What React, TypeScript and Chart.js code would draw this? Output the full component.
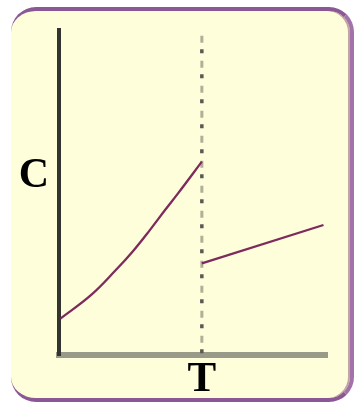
import React, { useEffect, useRef } from "react";
import { Chart, registerables } from "chart.js";

Chart.register(...registerables);

// Axis labels and where they sit on each scale
const xLabel = "T";
const yLabel = "C";
const xLabelAt = 53.2; // the transition temperature T
const yLabelAt = 55.0;

// Curve below T (rising, convex)
const lowX = [0.5, 12.0, 20.9, 27.7, 33.9, 39.5, 44.4, 53.2];
const lowY = [11.2, 18.5, 25.9, 32.1, 38.5, 44.6, 49.8, 59.5];

// Straight segment above T
const highX = [53.2, 98.5];
const highY = [28.2, 40.0];

// Dotted marker line at T
const markX = [53.2, 53.2];
const markY = [98.2, 0];

const pts = (xs: number[], ys: number[]) => xs.map((x, i) => ({ x, y: ys[i] }));

export default function App() {
  const ref = useRef<HTMLCanvasElement | null>(null);

  useEffect(() => {
    if (!ref.current) return;
    const lineColor = "#7d2a5c";
    const chart = new Chart(ref.current, {
      type: "line",
      data: {
        datasets: [
          {
            data: pts(lowX, lowY),
            borderColor: lineColor,
            borderWidth: 2.3,
            pointRadius: 0,
            tension: 0.4,
            order: 0,
          },
          {
            data: pts(highX, highY),
            borderColor: lineColor,
            borderWidth: 2.3,
            pointRadius: 0,
            order: 1,
          },
          {
            data: pts(markX, markY),
            borderColor: "#b0b096",
            borderWidth: 3,
            borderDash: [7, 18],
            borderCapStyle: "butt",
            pointRadius: 0,
            order: 2,
          },
          {
            data: pts(markX, markY),
            borderColor: "#5a5a55",
            borderWidth: 3.5,
            borderDash: [4, 21],
            borderDashOffset: -13.5,
            borderCapStyle: "butt",
            pointRadius: 0,
            order: 3,
          },
        ],
      } as any,
      options: {
        animation: false,
        responsive: false,
        layout: { padding: { top: 30, right: 31.5, bottom: 0, left: 0 } },
        plugins: { legend: { display: false }, tooltip: { enabled: false } },
        scales: {
          x: {
            type: "linear",
            position: "bottom",
            min: 0,
            max: 100,
            grid: { display: false, drawTicks: false },
            border: { display: true, color: "#9a9a88", width: 6 },
            ticks: {
              autoSkip: false,
              maxRotation: 0,
              padding: -1,
              color: "#000000",
              font: { family: "Liberation Serif", weight: "bold", size: 43 },
              callback: () => xLabel,
            },
            afterBuildTicks: (s: any) => {
              s.ticks = [{ value: xLabelAt }];
            },
            afterFit: (s: any) => {
              s.height = 48;
              s.paddingLeft = 0;
              s.paddingRight = 0;
            },
          },
          y: {
            type: "linear",
            position: "left",
            min: 0,
            max: 100,
            grid: { display: false, drawTicks: false },
            border: { display: true, color: "#333330", width: 4 },
            ticks: {
              autoSkip: false,
              padding: 10,
              color: "#000000",
              font: { family: "Liberation Serif", weight: "bold", size: 42 },
              callback: () => yLabel,
            },
            afterBuildTicks: (s: any) => {
              s.ticks = [{ value: yLabelAt }];
            },
            afterFit: (s: any) => {
              s.width = 59;
              s.paddingTop = 0;
              s.paddingBottom = 0;
            },
          },
        },
      } as any,
    });
    return () => chart.destroy();
  }, []);

  return (
    <div style={{ position: "absolute", left: 0, top: 0, width: 359, height: 403, overflow: "hidden", background: "#ffffff" }}>
      <div
        style={{
          position: "absolute",
          left: 11,
          top: 7,
          width: 343,
          height: 395,
          boxSizing: "border-box",
          background: "#fefedb",
          borderTop: "4px solid #8b5794",
          borderBottom: "4px solid #8b5794",
          borderRight: "4px solid #a273ab",
          borderLeft: "0px solid #8b5794",
          borderRadius: 25,
          boxShadow: "inset -2px 0 0 #c4a4a4",
        }}
      />
      <canvas ref={ref} width={359} height={403} style={{ position: "absolute", left: 0, top: 0, width: 359, height: 403 }} />
    </div>
  );
}
